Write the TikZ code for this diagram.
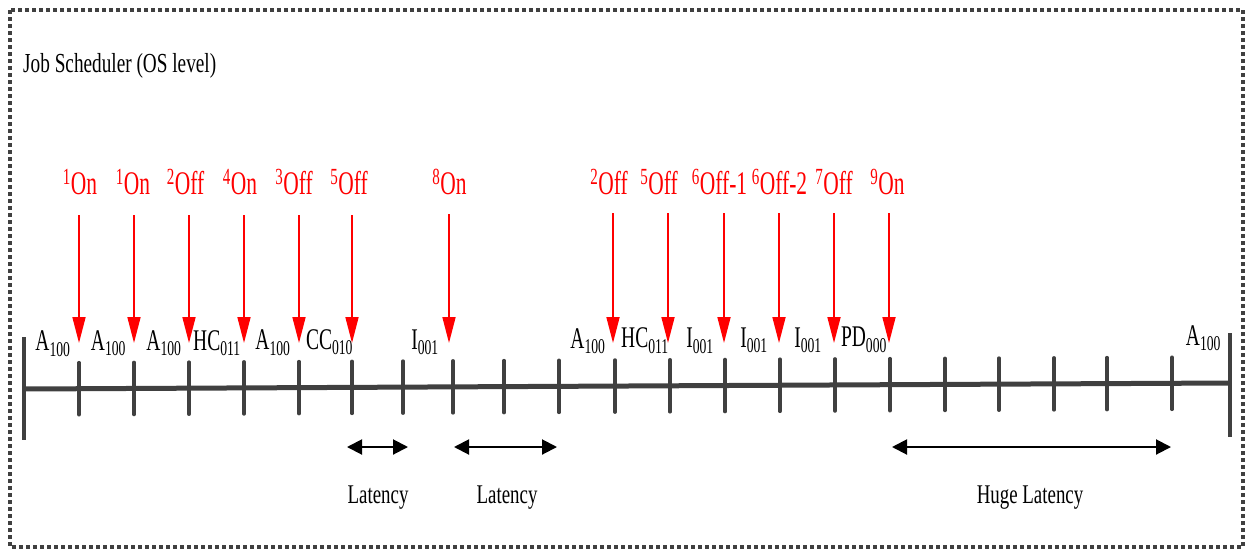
\documentclass[tikz,border=0pt]{standalone}
\usepackage{fontspec}
\setmainfont{Liberation Serif}[FakeStretch=0.7]
\newfontfamily\narrowserif{Liberation Serif}[FakeStretch=0.65]
\usetikzlibrary{arrows.meta}
\definecolor{axisgray}{HTML}{404040}
\tikzset{
  frame/.style={draw=axisgray, line width=3.4pt, dash pattern=on 4pt off 3pt},
  axisline/.style={draw=axisgray, line width=5pt},
  tickmark/.style={draw=axisgray, line width=3.6pt, line cap=round},
  endbar/.style={draw=axisgray, line width=3.8pt},
  event/.style={draw=red, line width=1.7pt, -{Triangle[length=26pt,width=13pt]}},
  evlabel/.style={text=red, font=\narrowserif\fontsize{33}{33}\selectfont, anchor=base, inner sep=0pt},
  joblabel/.style={font=\narrowserif\fontsize{30}{30}\selectfont, anchor=base, inner sep=0pt},
  latspan/.style={draw=black, line width=2pt,
    {Triangle[length=15pt,width=15pt]}-{Triangle[length=15pt,width=15pt]}},
  spanlabel/.style={font=\fontsize{27}{27}\selectfont, anchor=base, inner sep=0pt},
  title/.style={font=\fontsize{27.5}{27.5}\selectfont, anchor=base west, inner sep=0pt}
}
\begin{document}
\begin{tikzpicture}[x=1pt,y=-1pt]
\useasboundingbox (0,0) rectangle (1249,552);

% outer dashed frame
\draw[frame] (10,10) rectangle (1243,547);
\node[title] (ttl) at (23,72) {Job Scheduler (OS level)};

% time axis with end bars
\coordinate (a0) at (24,389);
\coordinate (a1) at (1230,383);
\coordinate (b0t) at (24,337); \coordinate (b0b) at (24,440);
\coordinate (b1t) at (1230,333); \coordinate (b1b) at (1230,437);
\draw[axisline] (a0) -- (a1);
\draw[endbar] (b0t) -- (b0b);
\draw[endbar] (b1t) -- (b1b);

% tick marks along the axis
\foreach \x [count=\i] in {79,134,189,244,299,352,403,453,504,559,615,670,725,780,835,890,945,999,1054,1107,1172} {
  \pgfmathsetmacro\yy{389-6*(\x-24)/1206}
  \coordinate (t\i) at (\x,\yy);
  \draw[tickmark] ([yshift=26pt]t\i) -- ([yshift=-26pt]t\i);
}

% job labels sitting on the axis
\foreach \x/\t [count=\i] in {
  53/{A\textsubscript{100}}, 108.5/{A\textsubscript{100}}, 164/{A\textsubscript{100}},
  217/{HC\textsubscript{011}}, 273/{A\textsubscript{100}}, 329.5/{CC\textsubscript{010}},
  425/{I\textsubscript{001}}, 588/{A\textsubscript{100}}, 645/{HC\textsubscript{011}},
  700/{I\textsubscript{001}}, 754/{I\textsubscript{001}}, 808/{I\textsubscript{001}},
  864/{PD\textsubscript{000}}, 1203.5/{A\textsubscript{100}}} {
  \pgfmathsetmacro\yy{389-6*(\x-24)/1206-38}
  \node[joblabel] (j\i) at (\x,\yy) {\t};
}

% power events (red) with their arrows
\foreach \lx/\ax/\top/\t [count=\i] in {
  80/79/215/{\textsuperscript{1}On}, 133/134/215/{\textsuperscript{1}On},
  185.5/189/215/{\textsuperscript{2}Off}, 240/244/215/{\textsuperscript{4}On},
  294/299/215/{\textsuperscript{3}Off}, 349/352/215/{\textsuperscript{5}Off},
  449.5/449/214/{\textsuperscript{8}On}, 609/613/213/{\textsuperscript{2}Off},
  659/668/213/{\textsuperscript{5}Off}, 719.5/724/213/{\textsuperscript{6}Off-1},
  779.5/779/213/{\textsuperscript{6}Off-2}, 834/834/213/{\textsuperscript{7}Off},
  887.5/889/213/{\textsuperscript{9}On}} {
  \node[evlabel] (e\i) at (\lx,194) {\t};
  \coordinate (es\i) at (\ax,\top);
  \coordinate (et\i) at (\ax,343);
  \draw[event] (es\i) -- (et\i);
}

% latency spans
\coordinate (l1a) at (347,447); \coordinate (l1b) at (408,447);
\coordinate (l2a) at (454,447); \coordinate (l2b) at (557,447);
\coordinate (l3a) at (892,447); \coordinate (l3b) at (1171,447);
\draw[latspan] (l1a) -- (l1b);
\draw[latspan] (l2a) -- (l2b);
\draw[latspan] (l3a) -- (l3b);
\node[spanlabel] (lt1) at (378,503) {Latency};
\node[spanlabel] (lt2) at (507,503) {Latency};
\node[spanlabel] (lt3) at (1030,503) {Huge Latency};
\end{tikzpicture}
\end{document}
